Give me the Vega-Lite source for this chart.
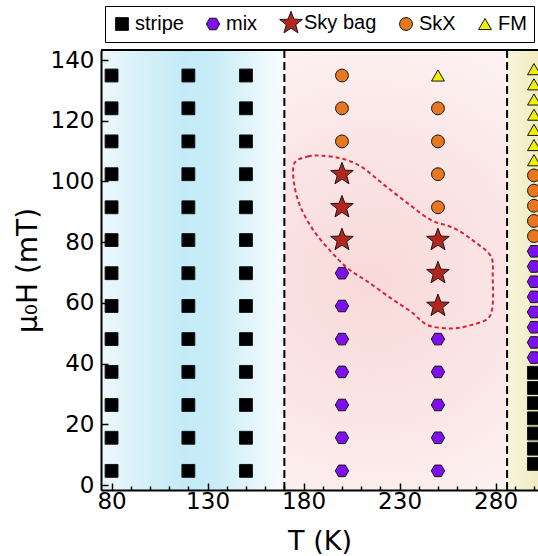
{
  "$schema": "https://vega.github.io/schema/vega-lite/v6.json",
  "width": 437,
  "height": 440,
  "autosize": {"type": "none"},
  "padding": {"left": 101, "top": 50, "right": 0, "bottom": 66},
  "background": "white",
  "config": {"view": {"stroke": null}, "font": "DejaVu Sans", "axis": {"labelOverlap": false}},
  "datasets": {
    "pts": [
      {"T":80,"H":4.7,"p":"stripe"},{"T":80,"H":15.6,"p":"stripe"},{"T":80,"H":26.4,"p":"stripe"},{"T":80,"H":37.3,"p":"stripe"},{"T":80,"H":48.1,"p":"stripe"},{"T":80,"H":59,"p":"stripe"},{"T":80,"H":69.8,"p":"stripe"},{"T":80,"H":80.7,"p":"stripe"},{"T":80,"H":91.5,"p":"stripe"},{"T":80,"H":102.4,"p":"stripe"},{"T":80,"H":113.2,"p":"stripe"},{"T":80,"H":124.1,"p":"stripe"},{"T":80,"H":134.9,"p":"stripe"},
      {"T":120,"H":4.7,"p":"stripe"},{"T":120,"H":15.6,"p":"stripe"},{"T":120,"H":26.4,"p":"stripe"},{"T":120,"H":37.3,"p":"stripe"},{"T":120,"H":48.1,"p":"stripe"},{"T":120,"H":59,"p":"stripe"},{"T":120,"H":69.8,"p":"stripe"},{"T":120,"H":80.7,"p":"stripe"},{"T":120,"H":91.5,"p":"stripe"},{"T":120,"H":102.4,"p":"stripe"},{"T":120,"H":113.2,"p":"stripe"},{"T":120,"H":124.1,"p":"stripe"},{"T":120,"H":134.9,"p":"stripe"},
      {"T":150,"H":4.7,"p":"stripe"},{"T":150,"H":15.6,"p":"stripe"},{"T":150,"H":26.4,"p":"stripe"},{"T":150,"H":37.3,"p":"stripe"},{"T":150,"H":48.1,"p":"stripe"},{"T":150,"H":59,"p":"stripe"},{"T":150,"H":69.8,"p":"stripe"},{"T":150,"H":80.7,"p":"stripe"},{"T":150,"H":91.5,"p":"stripe"},{"T":150,"H":102.4,"p":"stripe"},{"T":150,"H":113.2,"p":"stripe"},{"T":150,"H":124.1,"p":"stripe"},{"T":150,"H":134.9,"p":"stripe"},
      {"T":200,"H":4.7,"p":"mix"},{"T":200,"H":15.6,"p":"mix"},{"T":200,"H":26.4,"p":"mix"},{"T":200,"H":37.3,"p":"mix"},{"T":200,"H":48.1,"p":"mix"},{"T":200,"H":59,"p":"mix"},{"T":200,"H":69.8,"p":"mix"},{"T":200,"H":80.7,"p":"Sky bag"},{"T":200,"H":91.5,"p":"Sky bag"},{"T":200,"H":102.4,"p":"Sky bag"},{"T":200,"H":113.2,"p":"SkX"},{"T":200,"H":124.1,"p":"SkX"},{"T":200,"H":134.9,"p":"SkX"},
      {"T":250,"H":4.7,"p":"mix"},{"T":250,"H":15.6,"p":"mix"},{"T":250,"H":26.4,"p":"mix"},{"T":250,"H":37.3,"p":"mix"},{"T":250,"H":48.1,"p":"mix"},{"T":250,"H":59,"p":"Sky bag"},{"T":250,"H":69.8,"p":"Sky bag"},{"T":250,"H":80.7,"p":"Sky bag"},{"T":250,"H":91.5,"p":"SkX"},{"T":250,"H":102.4,"p":"SkX"},{"T":250,"H":113.2,"p":"SkX"},{"T":250,"H":124.1,"p":"SkX"},{"T":250,"H":134.9,"p":"FM"},
      {"T":300,"H":7,"p":"stripe"},{"T":300,"H":12,"p":"stripe"},{"T":300,"H":17,"p":"stripe"},{"T":300,"H":22,"p":"stripe"},{"T":300,"H":27,"p":"stripe"},{"T":300,"H":32,"p":"stripe"},{"T":300,"H":37,"p":"stripe"},
      {"T":300,"H":42,"p":"mix"},{"T":300,"H":47,"p":"mix"},{"T":300,"H":52,"p":"mix"},{"T":300,"H":57,"p":"mix"},{"T":300,"H":62,"p":"mix"},{"T":300,"H":67,"p":"mix"},{"T":300,"H":72,"p":"mix"},{"T":300,"H":77,"p":"mix"},
      {"T":300,"H":82,"p":"SkX"},{"T":300,"H":87,"p":"SkX"},{"T":300,"H":92,"p":"SkX"},{"T":300,"H":97,"p":"SkX"},{"T":300,"H":102,"p":"SkX"},
      {"T":300,"H":107,"p":"FM"},{"T":300,"H":112,"p":"FM"},{"T":300,"H":117,"p":"FM"},{"T":300,"H":122,"p":"FM"},{"T":300,"H":127,"p":"FM"},{"T":300,"H":132,"p":"FM"},{"T":300,"H":137,"p":"FM"}
    ],
    "bag": [
      {"i":0,"T":175.2,"H":106},{"i":1,"T":182.2,"H":108.2},{"i":2,"T":189.1,"H":108.5},{"i":3,"T":199.5,"H":107.6},{"i":4,"T":210,"H":104.9},{"i":5,"T":222.1,"H":98.8},{"i":6,"T":234.3,"H":92.8},{"i":7,"T":246.4,"H":87.3},{"i":8,"T":258.5,"H":84.6},{"i":9,"T":269,"H":80.2},{"i":10,"T":277.7,"H":75.2},{"i":11,"T":278.5,"H":68.1},{"i":12,"T":278.5,"H":59.3},{"i":13,"T":276,"H":54.9},{"i":14,"T":267.2,"H":52.7},{"i":15,"T":256.8,"H":51.6},{"i":16,"T":244.7,"H":52.7},{"i":17,"T":236,"H":57.1},{"i":18,"T":225.6,"H":61.5},{"i":19,"T":213.4,"H":67},{"i":20,"T":203,"H":71.4},{"i":21,"T":194.3,"H":76.9},{"i":22,"T":185.6,"H":83.5},{"i":23,"T":178.7,"H":91.2},{"i":24,"T":175.2,"H":98.8}
    ]
  },
  "encoding": {
    "x": {
      "field": "T", "type": "quantitative", "title": "T (K)",
      "scale": {"domain": [74.5, 302.1], "nice": false, "zero": false},
      "axis": {
        "values": [80, 90, 100, 110, 120, 130, 140, 150, 160, 170, 180, 190, 200, 210, 220, 230, 240, 250, 260, 270, 280, 290, 300],
        "labelExpr": "(datum.value - 80) % 50 == 0 ? datum.label : ''",
        "tickSize": {"condition": {"test": "(datum.value - 80) % 50 == 0", "value": -7}, "value": -4},
        "tickColor": "black", "tickWidth": 1.5, "zindex": 1,
        "domainColor": "black", "domainWidth": 2,
        "grid": false, "labelOverlap": false, "labelFlush": false, "labelBound": false,
        "labelFont": "DejaVu Sans", "labelFontSize": 23, "labelColor": "black", "labelPadding": 7,
        "titleFont": "DejaVu Sans", "titleFontSize": 27, "titleFontWeight": "normal", "titleColor": "black", "titlePadding": 12
      }
    }
  },
  "layer": [
    {
      "data": {"values": [{"T": 74.5, "T2": 170}]},
      "mark": {"type": "rect", "fill": {"gradient": "linear", "x1": 0, "y1": 0, "x2": 1, "y2": 0, "stops": [{"offset": 0, "color": "#edf8fc"}, {"offset": 0.2, "color": "#d9f1f9"}, {"offset": 0.45, "color": "#c3ebf7"}, {"offset": 0.62, "color": "#c9edf8"}, {"offset": 0.85, "color": "#e6f6fb"}, {"offset": 1, "color": "#f9fdfe"}]}},
      "encoding": {"x2": {"field": "T2"}}
    },
    {
      "data": {"values": [{"T": 170, "T2": 286}]},
      "mark": {"type": "rect", "fill": {"gradient": "radial", "x1": 0.45, "y1": 0.52, "r1": 0, "x2": 0.45, "y2": 0.52, "r2": 0.75, "stops": [{"offset": 0, "color": "#f9d9d9"}, {"offset": 0.5, "color": "#fbe8e8"}, {"offset": 1, "color": "#fffbfb"}]}},
      "encoding": {"x2": {"field": "T2"}}
    },
    {
      "data": {"values": [{"T": 286, "T2": 302.1}]},
      "mark": {"type": "rect", "fill": {"gradient": "linear", "x1": 0, "y1": 0, "x2": 1, "y2": 0, "stops": [{"offset": 0, "color": "#f8f5dc"}, {"offset": 1, "color": "#f1ecc0"}]}},
      "encoding": {"x2": {"field": "T2"}}
    },
    {
      "data": {"values": [{"T": 170}, {"T": 286}]},
      "mark": {"type": "rule", "color": "black", "strokeWidth": 2, "strokeDash": [8, 4]},
      "encoding": {}
    },
    {
      "data": {"name": "bag"},
      "mark": {"type": "line", "color": "#d8243a", "strokeWidth": 2, "strokeDash": [4, 3], "interpolate": "cardinal-closed"},
      "encoding": {
        "y": {
          "field": "H", "type": "quantitative", "title": "μ₀H (mT)",
          "scale": {"domain": [-1.6, 143.3], "nice": false, "zero": false},
          "axis": {
            "values": [0, 20, 40, 60, 80, 100, 120, 140],
            "tickSize": -7, "tickColor": "black", "tickWidth": 1.5, "zindex": 1,
            "domainColor": "black", "domainWidth": 2,
            "grid": false, "labelOverlap": false, "labelFlush": false,
            "labelFont": "DejaVu Sans", "labelFontSize": 23, "labelColor": "black", "labelPadding": 14,
            "titleFont": "DejaVu Sans", "titleFontSize": 28, "titleFontWeight": "normal", "titleColor": "black", "titlePadding": 8
          }
        },
        "order": {"field": "i", "type": "quantitative"}
      }
    },
    {
      "data": {"name": "pts"},
      "mark": {"type": "point", "filled": true, "opacity": 1, "size": 165, "stroke": "#151515", "strokeWidth": 1},
      "encoding": {
        "y": {
          "field": "H", "type": "quantitative", "title": "μ₀H (mT)",
          "scale": {"domain": [-1.6, 143.3], "nice": false, "zero": false},
          "axis": {
            "values": [0, 20, 40, 60, 80, 100, 120, 140],
            "tickSize": -7, "tickColor": "black", "tickWidth": 1.5, "zindex": 1,
            "domainColor": "black", "domainWidth": 2,
            "grid": false, "labelOverlap": false, "labelFlush": false,
            "labelFont": "DejaVu Sans", "labelFontSize": 23, "labelColor": "black", "labelPadding": 14,
            "titleFont": "DejaVu Sans", "titleFontSize": 28, "titleFontWeight": "normal", "titleColor": "black", "titlePadding": 8
          }
        },
        "color": {
          "field": "p", "type": "nominal",
          "scale": {"domain": ["stripe", "mix", "Sky bag", "SkX", "FM"], "range": ["#000000", "#7d10f0", "#b3261e", "#e8781e", "#f0f000"]},
          "legend": {"orient": "none", "legendX": 4, "legendY": -44, "direction": "horizontal", "title": null, "strokeColor": "black", "fillColor": "white", "padding": 7, "labelFont": "Liberation Sans", "labelFontSize": 20, "labelColor": "black", "columnPadding": 19, "symbolSize": 165, "symbolStrokeColor": "#151515", "symbolStrokeWidth": 1, "labelOffset": 3}
        },
        "shape": {
          "field": "p", "type": "nominal",
          "scale": {"domain": ["stripe", "mix", "Sky bag", "SkX", "FM"], "range": ["square", "M1.04,0L0.52,0.9L-0.52,0.9L-1.04,0L-0.52,-0.9L0.52,-0.9Z", "M0,-1.85L0.457,-0.629L1.759,-0.572L0.739,0.24L1.087,1.497L0,0.777L-1.087,1.497L-0.739,0.24L-1.759,-0.572L-0.457,-0.629Z", "circle", "triangle-up"]},
          "legend": {"orient": "none", "legendX": 4, "legendY": -44, "direction": "horizontal", "title": null, "strokeColor": "black", "fillColor": "white", "padding": 7, "labelFont": "Liberation Sans", "labelFontSize": 20, "labelColor": "black", "columnPadding": 19, "symbolSize": 165, "symbolStrokeColor": "#151515", "symbolStrokeWidth": 1, "labelOffset": 3}
        }
      }
    },
    {
      "data": {"values": [{"T": 74.5, "T2": 302.1, "H": 143.3}]},
      "mark": {"type": "rule", "color": "black", "strokeWidth": 2},
      "encoding": {
        "x2": {"field": "T2"},
        "y": {
          "field": "H", "type": "quantitative", "title": "μ₀H (mT)",
          "scale": {"domain": [-1.6, 143.3], "nice": false, "zero": false},
          "axis": {
            "values": [0, 20, 40, 60, 80, 100, 120, 140],
            "tickSize": -7, "tickColor": "black", "tickWidth": 1.5, "zindex": 1,
            "domainColor": "black", "domainWidth": 2,
            "grid": false, "labelOverlap": false, "labelFlush": false,
            "labelFont": "DejaVu Sans", "labelFontSize": 23, "labelColor": "black", "labelPadding": 14,
            "titleFont": "DejaVu Sans", "titleFontSize": 28, "titleFontWeight": "normal", "titleColor": "black", "titlePadding": 8
          }
        }
      }
    }
  ]
}
